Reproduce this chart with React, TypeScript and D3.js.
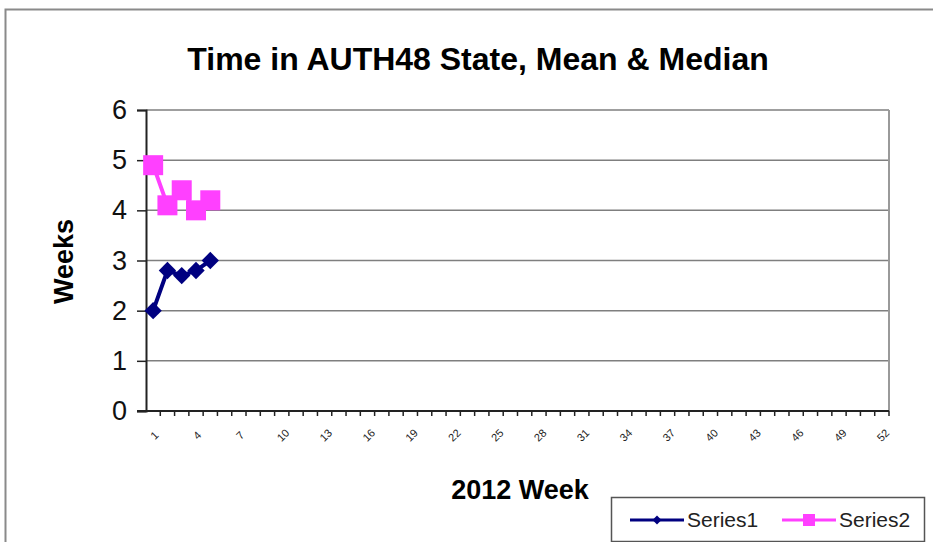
import React, { useEffect, useRef } from "react";
import * as d3 from "d3";

const weeks: number[] = d3.range(1, 53);
const series1: number[] = [2, 2.8, 2.7, 2.8, 3.0];
const series2: number[] = [4.9, 4.1, 4.4, 4.0, 4.2];
const yTicks: number[] = [0, 1, 2, 3, 4, 5, 6];
const seriesNames: string[] = ["Series1", "Series2"];

const App = () => {
  const ref = useRef<SVGSVGElement>(null);
  const left = 146;
  const right = 889;
  const top = 110;
  const bottom = 411;

  useEffect(() => {
    const svg = d3.select(ref.current);
    svg.selectAll("*").remove();
    const font = "Liberation Sans, Arial, sans-serif";

    // outer chart border
    svg
      .append("rect")
      .attr("x", 5.5)
      .attr("y", 9.5)
      .attr("width", 940)
      .attr("height", 560)
      .attr("fill", "white")
      .attr("stroke", "#8a8a8a")
      .attr("stroke-width", 2);

    svg
      .append("text")
      .attr("x", 478)
      .attr("y", 70)
      .attr("text-anchor", "middle")
      .style("font-family", font)
      .style("font-weight", "bold")
      .style("font-size", "32px")
      .text("Time in AUTH48 State, Mean & Median");

    const x = d3
      .scaleBand<number>()
      .domain(weeks)
      .range([left, right])
      .padding(0);
    const y = d3.scaleLinear().domain([0, 6]).range([bottom, top]);

    // gridlines
    svg
      .append("g")
      .selectAll("line")
      .data(yTicks.filter((d) => d > 0))
      .join("line")
      .attr("x1", left)
      .attr("x2", right)
      .attr("y1", (d) => y(d))
      .attr("y2", (d) => y(d))
      .attr("stroke", "#7f7f7f")
      .attr("stroke-width", 1.5);

    svg
      .append("line")
      .attr("x1", right)
      .attr("x2", right)
      .attr("y1", top)
      .attr("y2", bottom)
      .attr("stroke", "#9a9a9a")
      .attr("stroke-width", 2);

    // y axis
    const yAxis = svg
      .append("g")
      .attr("transform", `translate(${left},0)`)
      .call(d3.axisLeft(y).tickValues(yTicks).tickSize(9).tickPadding(10).tickFormat(d3.format("d")));
    yAxis.select(".domain").attr("stroke", "#222").attr("stroke-width", 2);
    yAxis.selectAll(".tick line").attr("stroke", "#222").attr("stroke-width", 1.5);
    yAxis
      .selectAll(".tick text")
      .style("font-family", font)
      .style("font-size", "27px")
      .attr("fill", "#111");

    // x axis with ticks between categories
    const xg = svg.append("g");
    xg.append("line")
      .attr("x1", left - 9)
      .attr("x2", right)
      .attr("y1", bottom)
      .attr("y2", bottom)
      .attr("stroke", "#222")
      .attr("stroke-width", 2);
    xg.selectAll("line.tk")
      .data(weeks.slice(1).concat([53]))
      .join("line")
      .attr("class", "tk")
      .attr("x1", (d) => (d === 53 ? right : x(d)!))
      .attr("x2", (d) => (d === 53 ? right : x(d)!))
      .attr("y1", bottom)
      .attr("y2", bottom + 5)
      .attr("stroke", "#222")
      .attr("stroke-width", 1.5);
    xg.selectAll("text")
      .data(weeks.filter((d) => (d - 1) % 3 === 0))
      .join("text")
      .attr(
        "transform",
        (d) => `translate(${x(d)! + x.bandwidth() / 2 + 4},${bottom + 27}) rotate(-45)`
      )
      .attr("text-anchor", "middle")
      .style("font-family", font)
      .style("font-size", "11px")
      .attr("fill", "#222")
      .text((d) => d);

    svg
      .append("text")
      .attr("x", 520)
      .attr("y", 499)
      .attr("text-anchor", "middle")
      .style("font-family", font)
      .style("font-weight", "bold")
      .style("font-size", "27px")
      .text("2012 Week");

    svg
      .append("text")
      .attr("transform", `translate(73,${(top + bottom) / 2 + 1}) rotate(-90)`)
      .attr("text-anchor", "middle")
      .style("font-family", font)
      .style("font-weight", "bold")
      .style("font-size", "27px")
      .text("Weeks");

    const cx = (i: number) => x(weeks[i])! + x.bandwidth() / 2;
    const line = d3
      .line<number>()
      .x((_, i) => cx(i))
      .y((d) => y(d));

    const colors = ["#000080", "#ff40ff"];

    svg
      .append("path")
      .datum(series1)
      .attr("d", line)
      .attr("fill", "none")
      .attr("stroke", colors[0])
      .attr("stroke-width", 4);
    svg
      .append("g")
      .selectAll("path")
      .data(series1)
      .join("path")
      .attr("transform", (d, i) => `translate(${cx(i)},${y(d)}) rotate(45)`)
      .attr("d", d3.symbol(d3.symbolSquare, 150)())
      .attr("fill", colors[0]);

    svg
      .append("path")
      .datum(series2)
      .attr("d", line)
      .attr("fill", "none")
      .attr("stroke", colors[1])
      .attr("stroke-width", 4);
    svg
      .append("g")
      .selectAll("rect")
      .data(series2)
      .join("rect")
      .attr("x", (d, i) => cx(i) - 10)
      .attr("y", (d) => y(d) - 10)
      .attr("width", 20)
      .attr("height", 20)
      .attr("fill", colors[1]);

    // legend
    const lg = svg.append("g");
    lg.append("rect")
      .attr("x", 611.5)
      .attr("y", 497.5)
      .attr("width", 313)
      .attr("height", 44)
      .attr("fill", "white")
      .attr("stroke", "#555")
      .attr("stroke-width", 1.5);
    const lx = [630, 782];
    seriesNames.forEach((name, i) => {
      lg.append("line")
        .attr("x1", lx[i])
        .attr("x2", lx[i] + 54)
        .attr("y1", 520)
        .attr("y2", 520)
        .attr("stroke", colors[i])
        .attr("stroke-width", 3);
      if (i === 0) {
        lg.append("path")
          .attr("transform", `translate(${lx[i] + 27},520) rotate(45)`)
          .attr("d", d3.symbol(d3.symbolSquare, 40)())
          .attr("fill", colors[i]);
      } else {
        lg.append("rect")
          .attr("x", lx[i] + 27 - 6)
          .attr("y", 514)
          .attr("width", 12)
          .attr("height", 12)
          .attr("fill", colors[i]);
      }
      lg.append("text")
        .attr("x", lx[i] + 57)
        .attr("y", 527)
        .style("font-family", font)
        .style("font-size", "21px")
        .attr("fill", "#222")
        .text(name);
    });
  }, []);

  return (
    <svg
      ref={ref}
      width={933}
      height={542}
      style={{ position: "absolute", left: 0, top: 0, display: "block" }}
    />
  );
};

export default App;
